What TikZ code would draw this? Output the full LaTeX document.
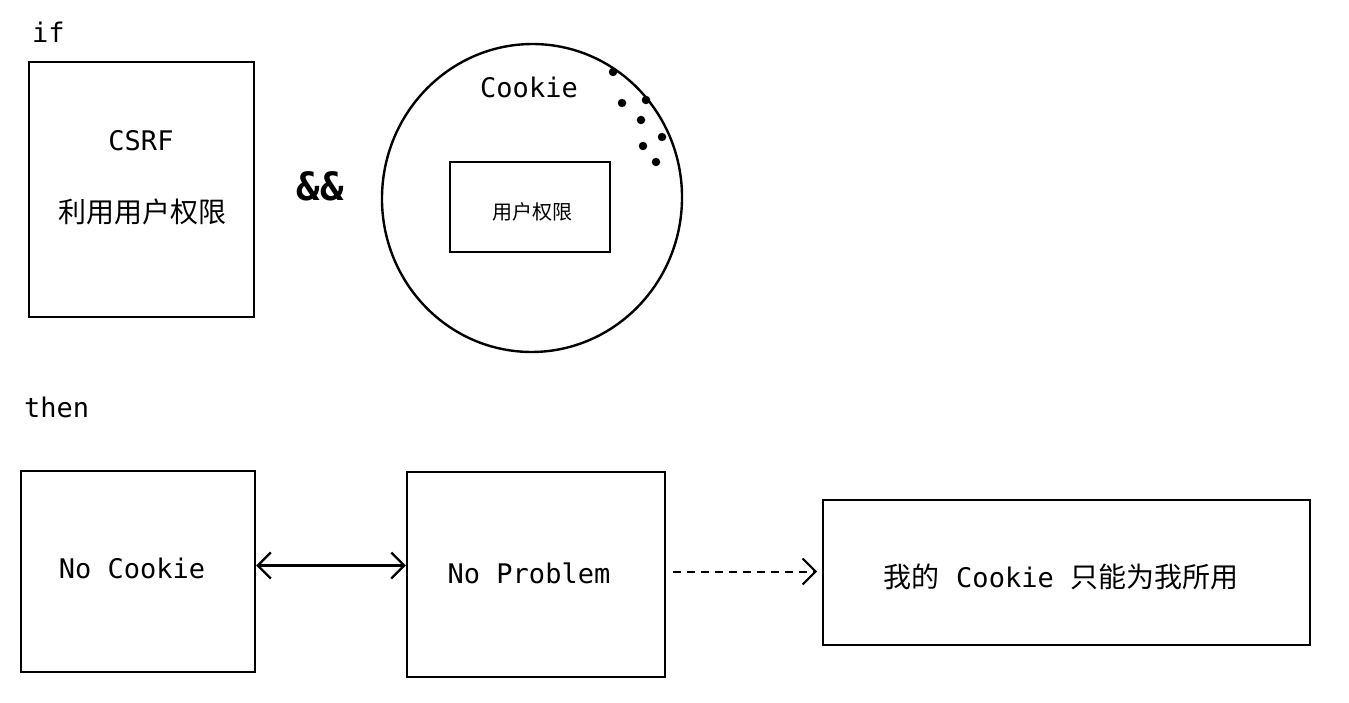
\documentclass[tikz,border=0pt]{standalone}
\usepackage{fontspec}
\newfontfamily\monof{DejaVu Sans Mono}
\newfontfamily\cjkf{Noto Sans CJK SC}
\usetikzlibrary{arrows.meta,shapes.geometric}
\tikzset{
  sketchbox/.style={draw, line width=2.4pt, inner sep=0pt},
  lbl/.style={font=\monof\fontsize{27}{30}\selectfont, inner sep=0pt},
  cjklbl/.style={font=\cjkf\fontsize{28}{32}\selectfont, inner sep=0pt},
  barb/.style={line width=2.2pt, {Straight Barb[length=13pt,width=26pt]}-{Straight Barb[length=13pt,width=26pt]}},
  dasharr/.style={line width=2pt, dash pattern=on 8pt off 6pt, -{Straight Barb[length=13pt,width=26pt]}},
  dot/.style={circle, fill=black, inner sep=0pt, minimum size=8.5pt}
}
\begin{document}
\begin{tikzpicture}[x=1pt,y=-1pt]
\useasboundingbox[fill=white] (0,0) rectangle (1349,703);

% if part
\node[lbl, anchor=west] (iflbl) at (32,32) {if};
\node[sketchbox, minimum width=225pt, minimum height=255pt] (csrf) at (141.5,189.5) {};
\node[lbl] (csrft) at (141,141) {CSRF};
\node[cjklbl] (csrfc) at (142,212) {利用用户权限};

\node[font=\monof\bfseries\fontsize{39}{40}\selectfont, inner sep=0pt] (and) at (320,186) {\&\&};

\node[ellipse, draw, line width=2.4pt, minimum width=300pt, minimum height=308pt, rotate=-4, inner sep=0pt] (jar) at (532,198) {};
\node[lbl] (cookie) at (529,87) {Cookie};
\node[dot] (d1) at (613,72) {};
\node[dot] (d2) at (622,103) {};
\node[dot] (d3) at (646,100) {};
\node[dot] (d4) at (641,120) {};
\node[dot] (d5) at (662,137) {};
\node[dot] (d6) at (643,146) {};
\node[dot] (d7) at (656,162) {};
\node[sketchbox, minimum width=160pt, minimum height=90pt] (perm) at (530,207) {};
\node[font=\cjkf\fontsize{20}{24}\selectfont, inner sep=0pt] (permt) at (532,212) {用户权限};

% then part
\node[lbl, anchor=west] (thenlbl) at (24,407) {then};
\node[sketchbox, minimum width=234pt, minimum height=201pt] (nc) at (138,571.5) {};
\node[lbl] (nct) at (132,568) {No Cookie};
\node[sketchbox, minimum width=258pt, minimum height=205pt] (np) at (536,574.5) {};
\node[lbl] (npt) at (529,573) {No Problem};
\node[sketchbox, line width=2pt, minimum width=487pt, minimum height=145pt] (res) at (1066.5,572.5) {};
\node[inner sep=0pt] (rest) at (1061,577) {\cjkf\fontsize{28}{32}\selectfont 我的{\monof\fontsize{27}{30}\selectfont\ Cookie\ }只能为我所用};

\draw[barb] ([yshift=6pt]nc.east) -- ([yshift=6pt]nc.east -| np.west);
\draw[dasharr, shorten <=7pt, shorten >=5pt] ([yshift=3pt]np.east) -- ([yshift=3pt]np.east -| res.west);
\end{tikzpicture}
\end{document}
